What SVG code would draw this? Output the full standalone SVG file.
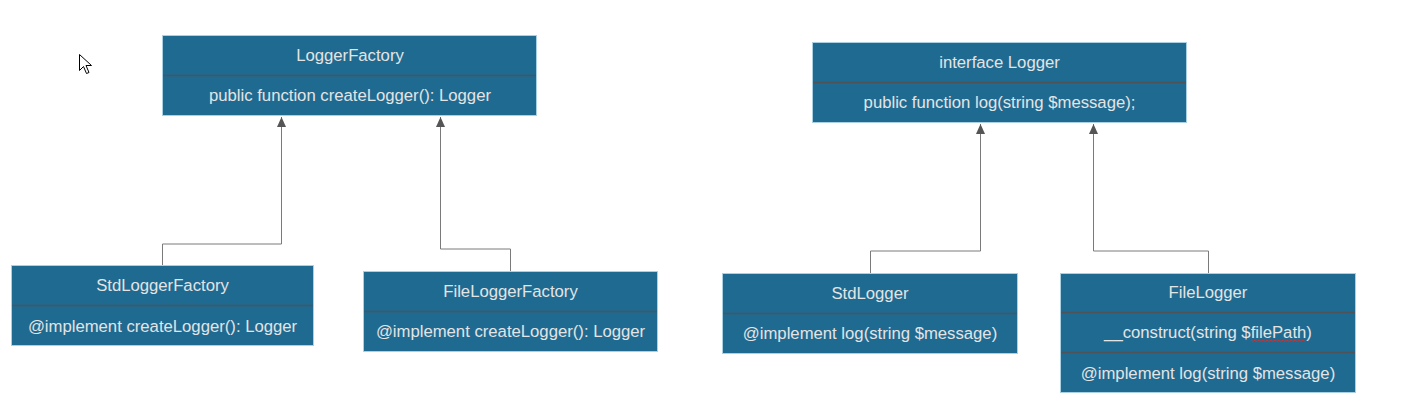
<svg xmlns="http://www.w3.org/2000/svg" width="1401" height="416" viewBox="0 0 1401 416">
<style>
.box{fill:#1f6a91;stroke:#a9d0e3;stroke-width:1}
.div{stroke:#4d5358;stroke-width:1.3}
.t{font-family:"Liberation Sans",Arial,sans-serif;font-size:16.7px;fill:#e4e4e4;text-anchor:middle}
.c{fill:none;stroke:#7a7a7a;stroke-width:1}
</style>
<defs>
<marker id="ah" markerWidth="10" markerHeight="9" refX="10" refY="4.5" orient="auto" markerUnits="userSpaceOnUse" viewBox="0 0 10 9">
<path d="M0,0 L10,4.5 L0,9 Z" fill="#555"/>
</marker>
</defs>
<rect width="1401" height="416" fill="#fff"/>
<g id="connectors">
<path class="c" d="M162.5,266 V244 H281.5 V117" marker-end="url(#ah)"/>
<path class="c" d="M510.5,271 V249 H440.5 V117" marker-end="url(#ah)"/>
<path class="c" d="M870.5,273 V251 H980.5 V124" marker-end="url(#ah)"/>
<path class="c" d="M1208.5,273 V251 H1093.5 V124" marker-end="url(#ah)"/>
</g>
<g id="LoggerFactory">
<rect class="box" x="162.5" y="35.5" width="374" height="80"/>
<line class="div" x1="163" y1="75.5" x2="536" y2="75.5"/>
<text class="t" x="350" y="61">LoggerFactory</text>
<text class="t" x="350" y="101">public function createLogger(): Logger</text>
</g>
<g id="StdLoggerFactory">
<rect class="box" x="11.5" y="265.5" width="302" height="80"/>
<line class="div" x1="12" y1="305.5" x2="313" y2="305.5"/>
<text class="t" x="162.5" y="291">StdLoggerFactory</text>
<text class="t" x="162.5" y="332">@implement createLogger(): Logger</text>
</g>
<g id="FileLoggerFactory">
<rect class="box" x="363.5" y="271.5" width="294" height="80"/>
<line class="div" x1="364" y1="311.5" x2="657" y2="311.5"/>
<text class="t" x="510.5" y="297">FileLoggerFactory</text>
<text class="t" x="510.5" y="337">@implement createLogger(): Logger</text>
</g>
<g id="Logger">
<rect class="box" x="812.5" y="42.5" width="374" height="80"/>
<line class="div" x1="813" y1="82.5" x2="1186" y2="82.5"/>
<text class="t" x="999.5" y="68">interface Logger</text>
<text class="t" x="999.5" y="108">public function log(string $message);</text>
</g>
<g id="StdLogger">
<rect class="box" x="722.5" y="273.5" width="295" height="80"/>
<line class="div" x1="723" y1="313.5" x2="1017" y2="313.5"/>
<text class="t" x="870" y="299">StdLogger</text>
<text class="t" x="870" y="339">@implement log(string $message)</text>
</g>
<g id="FileLogger">
<rect class="box" x="1060.5" y="273.5" width="295" height="119"/>
<line class="div" x1="1061" y1="312.5" x2="1355" y2="312.5"/>
<line class="div" x1="1061" y1="352.5" x2="1355" y2="352.5"/>
<text class="t" x="1208" y="298">FileLogger</text>
<text class="t" x="1208" y="338">__construct(string $filePath)</text>
<text class="t" x="1208" y="379">@implement log(string $message)</text>
<path d="M1251,340 l2,1.5 l2,-1.5 l2,1.5 l2,-1.5 l2,1.5 l2,-1.5 l2,1.5 l2,-1.5 l2,1.5 l2,-1.5 l2,1.5 l2,-1.5 l2,1.5 l2,-1.5 l2,1.5 l2,-1.5 l2,1.5 l2,-1.5 l2,1.5 l2,-1.5 l2,1.5 l2,-1.5 l2,1.5 l2,-1.5 l2,1.5 l2,-1.5 l2,1.5" fill="none" stroke="#d03030" stroke-width="1"/>
</g>
<path d="M79.5,54.5 V70.5 L83.5,66.5 L86.5,73.5 L89,72.5 L86,65.5 L91.5,65.5 Z" fill="#fff" stroke="#000" stroke-width="1"/>
</svg>
